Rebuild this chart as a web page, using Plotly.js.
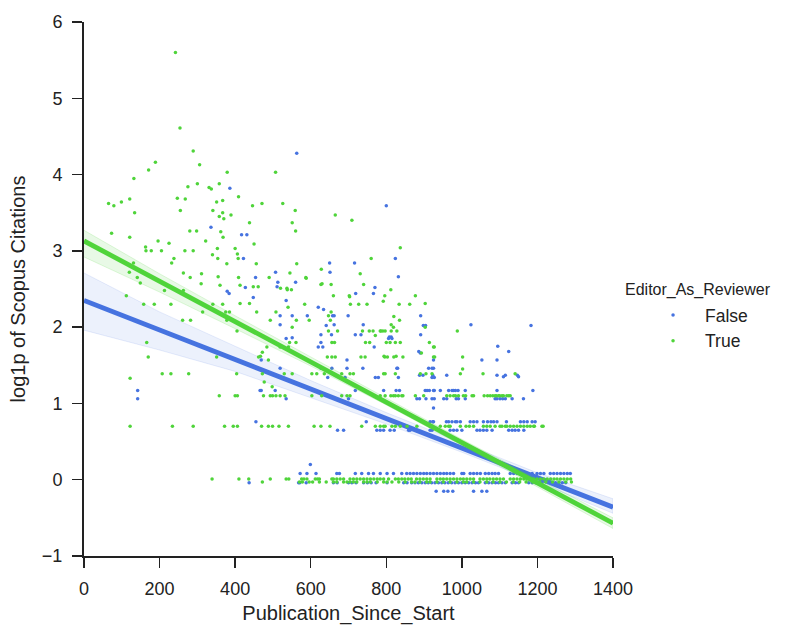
<!DOCTYPE html>
<html>
<head>
<meta charset="utf-8">
<script src="https://cdn.plot.ly/plotly-3.0.1.min.js"></script>
<style>
  html, body { margin: 0; padding: 0; background: #fff; }
  #chart { width: 794px; height: 636px; }
</style>
</head>
<body>
<div id="chart"></div>
<script>
// Editor_As_Reviewer = False (blue) - scattered points
const falseScatterX = [386,336,417,431,422,379,384,427,448,454,507,513,511,560,563,650,651,716,719,770,766,800,824,832,535,620,634,658,662,699,519,551,591,891,898,641,662,739,519,627,655,718,733,891,808,813,627,551,620,632,768,886,696,1024,1183,1095,1124,1053,1093,904,806,815,890,925,830,912,925,519,627,656,696,738,828,921,645,691,771,779,832,921,927,1147,888,897,923,960,1093,1115,1110,1150,469,535,925,599,437];
const falseScatterY = [3.82,3.31,3.21,3.21,2.90,2.47,2.44,2.52,2.39,2.65,2.72,2.59,2.53,2.59,4.28,2.84,2.72,2.84,2.44,2.52,2.44,3.59,2.90,2.66,2.35,2.26,2.23,2.15,2.15,2.15,2.15,2.15,2.15,2.15,2.02,2.02,2.03,2.03,2.03,1.90,1.90,1.90,1.90,1.90,1.87,1.87,1.80,1.86,1.74,1.74,1.74,1.68,1.57,2.03,2.02,1.75,1.68,1.57,1.57,2.02,1.85,1.85,1.66,1.57,1.46,1.46,1.46,1.46,1.46,1.46,1.46,1.46,1.46,1.46,1.34,1.34,1.34,1.34,1.34,1.34,1.34,1.37,1.37,1.37,1.37,1.37,1.37,1.37,1.35,1.35,1.57,1.85,0.94,0.20,-0.04];

// False - dense rows (one y level per row)
const falseRowY = [1.17, 1.06, 0.76, 0.65, 0.08, -0.04, -0.15];
const falseRowX = [
  [142,466,469,506,718,793,826,835,903,908,914,925,927,943,965,974,978,983,990,1009,1093,1188],
  [142,535,700,881,888,905,921,927,952,960,985,991,1009,1088,1093,1101,1108,1115,1133,1163],
  [455,747,916,923,925,959,965,974,983,987,996,1022,1031,1040,1057,1068,1077,1084,1093,1118,1155,1164,1173,1186,1194],
  [671,687,775,784,793,810,821,859,863,916,921,969,978,987,1000,1040,1048,1057,1066,1080,1124,1133,1141,1150,1164],
  [572,590,614,669,676,718,735,753,766,784,802,819,841,854,863,872,881,890,899,907,916,925,934,943,952,960,969,978,1000,1005,1022,1031,1040,1049,1062,1071,1080,1088,1097,1128,1137,1146,1155,1164,1173,1186,1199,1208,1217,1234,1243,1252,1261,1270,1279,1287],
  [568,571,588,660,670,700,709,720,740,750,760,773,802,846,855,867,876,885,894,903,911,920,929,938,947,955,964,973,982,991,1000,1009,1018,1027,1036,1044,1062,1071,1080,1089,1097,1106,1115,1133,1142,1150,1177,1186,1195,1204,1212,1239,1248,1257,1266,1275],
  [932,952,963,976,1031,1053,1066]
];

// Editor_As_Reviewer = True (green) - scattered points
const trueScatterX = [242,254,289,306,189,171,132,379,507,275,300,331,337,358,409,247,268,351,367,446,471,526,65,79,99,121,134,255,341,367,370,358,389,559,551,560,438,665,709,73,121,163,164,178,205,196,225,280,298,267,289,322,362,368,353,340,400,406,450,837,131,238,232,263,281,120,141,149,112,213,263,311,310,354,355,360,378,408,409,413,456,448,461,490,545,563,587,520,537,628,630,654,660,702,731,740,760,796,812,877,538,549,588,627,158,186,230,261,282,314,341,367,375,385,378,405,166,170,351,462,413,438,457,493,508,484,472,703,792,540,584,705,727,749,834,862,903,654,647,820,596,562,652,835,903,551,647,671,755,765,786,791,813,819,813,828,737,988,771,544,561,656,663,745,756,800,810,824,837,914,927,893,519,541,644,656,665,733,744,796,803,820,844,928,1002,794,826,925,784,797,925,122,1002,498,477,467,488];
const trueScatterY = [5.60,4.61,4.31,4.13,4.16,4.06,3.95,4.03,4.03,3.84,3.88,3.83,3.81,3.88,3.71,3.69,3.68,3.64,3.66,3.59,3.62,3.62,3.62,3.59,3.64,3.68,3.50,3.53,3.53,3.50,3.42,3.45,3.47,3.53,3.37,3.26,3.37,3.47,3.40,3.23,3.18,3.05,3.00,3.00,3.00,3.13,3.10,3.26,3.26,3.00,3.00,3.13,3.25,3.18,3.03,2.95,3.03,2.96,3.09,3.04,2.84,2.90,2.84,2.71,2.65,2.72,2.65,2.58,2.41,2.48,2.48,2.70,2.57,2.90,2.66,2.55,2.83,2.90,2.65,2.55,2.83,2.53,2.53,2.65,2.71,2.83,2.65,2.51,2.51,2.76,2.57,2.56,2.41,2.41,2.70,2.56,2.90,2.41,2.49,2.41,2.49,2.49,2.64,2.56,2.30,2.30,2.30,2.09,2.09,2.20,2.30,2.30,2.20,2.20,2.09,1.95,1.80,1.61,1.61,1.61,2.31,2.31,2.20,2.09,2.20,1.74,1.67,2.40,2.34,2.26,2.30,2.30,2.30,2.30,2.30,2.30,2.31,2.20,2.15,2.14,2.09,2.09,2.09,2.09,2.00,2.00,1.95,1.95,1.95,1.95,1.95,1.95,2.03,2.00,1.95,1.95,1.95,1.95,1.89,1.80,1.80,1.80,1.80,1.80,1.80,1.80,1.80,1.80,1.80,1.80,1.74,1.66,1.74,1.74,1.61,1.61,1.61,1.61,1.61,1.61,1.61,1.61,1.61,1.61,1.61,1.62,1.62,1.61,1.95,1.95,1.74,1.33,1.45,1.22,1.28,1.62,1.57];

// True - dense rows
const trueRowY = [1.39, 1.10, 0.70, 0.01, -0.03];
const trueRowX = [
  [207,230,277,404,472,530,551,603,616,636,682,704,713,793,797,824,890,905,921,996,1056,1141],
  [358,400,406,475,493,499,508,519,532,603,629,682,696,704,784,797,812,819,824,832,841,844,877,899,960,969,978,983,991,1004,1010,1027,1031,1059,1068,1075,1082,1088,1091,1097,1100,1106,1110,1119,1124,1128],
  [122,234,289,372,395,406,470,488,499,516,541,609,627,651,735,771,784,793,797,815,824,837,855,881,916,943,956,965,969,996,1011,1020,1031,1057,1066,1075,1088,1101,1106,1115,1119,1128,1137,1146,1155,1164,1173,1181,1190,1192,1212,1215],
  [339,410,436,493,535,542,576,582,590,612,618,623,656,660,669,678,687,704,713,722,731,740,749,758,767,776,784,793,806,824,832,841,849,858,866,880,889,898,907,916,934,943,951,960,969,978,987,996,1004,1013,1022,1031,1048,1057,1066,1074,1083,1092,1101,1110,1128,1137,1146,1155,1164,1172,1181,1190,1199,1208,1217,1226,1235,1244,1252,1261,1270,1279,1288],
  [472,570,578,596,605,623,641,660,669,687,696,704,713,722,740,749,758,776,793,802,815,833,850,867,876,889,907,916,934,951,969,987,1004,1013,1031,1048,1066,1083,1101,1118,1136,1153,1170,1188,1205,1222,1240,1257,1275,1290]
];

// regression fits and confidence bands
const fitX = [0, 1400];
const falseFitY = [2.35, -0.36];
const trueFitY = [3.13, -0.57];
const bandX = [0, 200, 400, 600, 800, 1000, 1200, 1400];
const falseUpper = [2.71, 2.20, 1.75, 1.30, 0.88, 0.48, 0.09, -0.25];
const falseLower = [1.96, 1.70, 1.42, 1.07, 0.73, 0.36, -0.03, -0.44];
const trueUpper = [3.27, 2.70, 2.15, 1.61, 1.07, 0.53, 0.01, -0.50];
const trueLower = [2.92, 2.46, 1.98, 1.49, 0.98, 0.45, -0.09, -0.64];

const blue = "#4673e0";
const green = "#4fd43a";

function collect(scX, scY, rowX, rowY) {
  const xs = scX.slice(), ys = scY.slice();
  rowX.forEach((row, i) => {
    row.forEach(x => { xs.push(x); ys.push(rowY[i]); });
  });
  return { x: xs, y: ys };
}

function bandTrace(upper, lower, fill, edge) {
  return {
    x: bandX.concat(bandX.slice().reverse()),
    y: upper.concat(lower.slice().reverse()),
    mode: "lines",
    fill: "toself",
    fillcolor: fill,
    line: { color: edge, width: 0.8 },
    hoverinfo: "skip",
    showlegend: false
  };
}

const fPts = collect(falseScatterX, falseScatterY, falseRowX, falseRowY);
const tPts = collect(trueScatterX, trueScatterY, trueRowX, trueRowY);

const traces = [
  { x: fPts.x, y: fPts.y, mode: "markers", name: "False",
    marker: { color: blue, size: 3.5 } },
  bandTrace(falseUpper, falseLower, "rgba(70,115,224,0.10)", "rgba(70,115,224,0.16)"),
  { x: fitX, y: falseFitY, mode: "lines", line: { color: blue, width: 4.8 }, showlegend: false },
  { x: tPts.x, y: tPts.y, mode: "markers", name: "True",
    marker: { color: green, size: 3.5 } },
  bandTrace(trueUpper, trueLower, "rgba(79,212,58,0.13)", "rgba(79,212,58,0.22)"),
  { x: fitX, y: trueFitY, mode: "lines", line: { color: green, width: 4.8 }, showlegend: false }
];

const fam = "Liberation Sans, Arial, sans-serif";
const tickFont = { family: fam, size: 18, color: "#222" };
const titleFont = { family: fam, size: 20, color: "#222" };

const layout = {
  width: 794,
  height: 636,
  margin: { l: 84, r: 181, t: 22, b: 80 },
  paper_bgcolor: "#fff",
  plot_bgcolor: "#fff",
  font: tickFont,
  xaxis: {
    range: [0, 1400],
    tickvals: [0, 200, 400, 600, 800, 1000, 1200, 1400],
    showgrid: false, zeroline: false,
    showline: true, linecolor: "#222", linewidth: 2,
    ticks: "outside", ticklen: 10, tickwidth: 1.5, tickcolor: "#222",
    tickfont: tickFont, ticklabelstandoff: 5,
    title: { text: "Publication_Since_Start", font: titleFont, standoff: 8 }
  },
  yaxis: {
    range: [-1, 6],
    tickvals: [-1, 0, 1, 2, 3, 4, 5, 6],
    showgrid: false, zeroline: false,
    showline: true, linecolor: "#222", linewidth: 2,
    ticks: "outside", ticklen: 10, tickwidth: 1.5, tickcolor: "#222",
    tickfont: tickFont, ticklabelstandoff: 6,
    title: { text: "log1p of Scopus Citations", font: titleFont, standoff: 11 }
  },
  showlegend: true,
  legend: {
    x: 1.053, xanchor: "left",
    y: 0.485, yanchor: "top",
    font: { family: fam, size: 17.5, color: "#222" },
    itemwidth: 54,
    bgcolor: "rgba(0,0,0,0)"
  },
  annotations: [{
    text: "Editor_As_Reviewer",
    xref: "paper", yref: "paper",
    x: 1.019, y: 0.498, xanchor: "left", yanchor: "middle",
    showarrow: false,
    font: { family: fam, size: 16, color: "#222" }
  }]
};

Plotly.newPlot("chart", traces, layout, { displayModeBar: false, staticPlot: true });
</script>
</body>
</html>
